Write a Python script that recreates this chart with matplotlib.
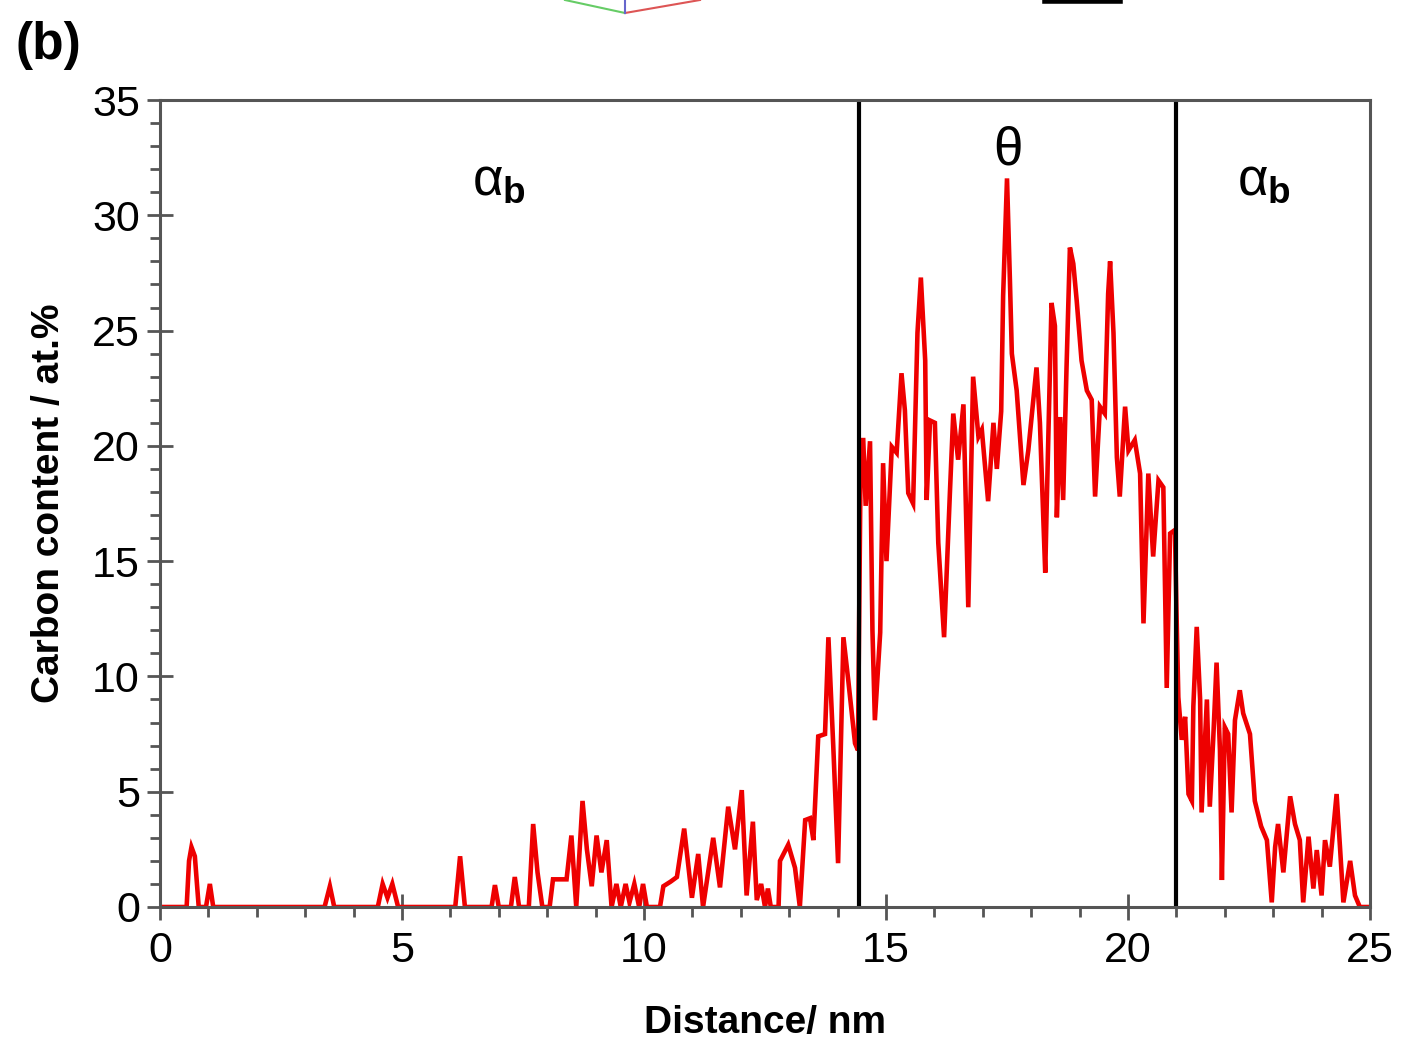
import matplotlib
matplotlib.use("Agg")
import matplotlib.pyplot as plt
from matplotlib.lines import Line2D
from matplotlib.ticker import MultipleLocator

plt.rcParams['font.family'] = ['Liberation Sans', 'DejaVu Sans']
plt.rcParams['mathtext.fontset'] = 'custom'
plt.rcParams['mathtext.rm'] = 'Liberation Sans'
plt.rcParams['mathtext.it'] = 'Liberation Sans'
plt.rcParams['mathtext.bf'] = 'Liberation Sans:bold'

# carbon profile (distance in nm, carbon in at.%)
distance = [0, 0.55, 0.6, 0.65, 0.72, 0.8, 0.95, 1.03, 1.1, 3.4, 3.51, 3.6,
            4.5, 4.6, 4.7, 4.8, 4.92, 6.1, 6.2, 6.3, 6.85, 6.92, 7.0, 7.25,
            7.33, 7.42, 7.62, 7.71, 7.8, 7.9, 8.05, 8.12, 8.4, 8.5, 8.6, 8.73,
            8.82, 8.92, 9.02, 9.12, 9.23, 9.33, 9.43, 9.52, 9.62, 9.7, 9.8,
            9.9, 9.98, 10.06, 10.33, 10.4, 10.55, 10.68, 10.83, 10.99, 11.12,
            11.22, 11.43, 11.57, 11.74, 11.88, 12.02, 12.12, 12.25, 12.33,
            12.42, 12.5, 12.56, 12.62, 12.78, 12.81, 12.98, 13.12, 13.22,
            13.33, 13.43, 13.5, 13.6, 13.74, 13.81, 13.91, 14.01, 14.12, 14.22,
            14.36, 14.42, 14.48, 14.53, 14.58, 14.67, 14.72, 14.77, 14.88,
            14.94, 15.01, 15.12, 15.22, 15.32, 15.39, 15.46, 15.56, 15.65,
            15.72, 15.81, 15.84, 15.91, 16.01, 16.08, 16.2, 16.32, 16.39,
            16.49, 16.6, 16.7, 16.8, 16.91, 16.98, 17.11, 17.22, 17.29, 17.38,
            17.42, 17.5, 17.56, 17.6, 17.7, 17.84, 17.94, 18.11, 18.18, 18.29,
            18.32, 18.42, 18.49, 18.53, 18.6, 18.66, 18.73, 18.8, 18.87, 18.94,
            19.04, 19.15, 19.25, 19.32, 19.42, 19.52, 19.59, 19.63, 19.7,
            19.77, 19.83, 19.94, 20.01, 20.14, 20.25, 20.32, 20.42, 20.52,
            20.63, 20.73, 20.8, 20.87, 20.97, 21.0, 21.04, 21.11, 21.18, 21.25,
            21.32, 21.35, 21.42, 21.49, 21.52, 21.63, 21.69, 21.76, 21.83,
            21.9, 21.94, 22.0, 22.07, 22.14, 22.21, 22.31, 22.38, 22.52, 22.62,
            22.75, 22.87, 22.97, 23.04, 23.1, 23.21, 23.35, 23.45, 23.55,
            23.62, 23.73, 23.83, 23.9, 24.0, 24.07, 24.17, 24.31, 24.38, 24.45,
            24.59, 24.69, 24.79, 25.0]
carbon = [0, 0, 2.0, 2.6, 2.2, 0, 0, 1.0, 0, 0, 0.9, 0,
          0, 1.0, 0.4, 1.0, 0, 0, 2.2, 0, 0, 0.95, 0, 0,
          1.3, 0, 0, 3.6, 1.5, 0, 0, 1.2, 1.2, 3.1, 0, 4.6,
          2.5, 0.9, 3.1, 1.5, 2.9, 0, 1.0, 0, 1.0, 0.2, 1.0,
          0, 1.0, 0, 0, 0.9, 1.1, 1.3, 3.4, 0.4, 2.3,
          0, 3.0, 0.85, 4.35, 2.5, 5.07, 0.5, 3.7, 0.3,
          1.0, 0, 0.8, 0, 0, 2.0, 2.7, 1.7, 0,
          3.77, 3.85, 2.9, 7.4, 7.5, 11.7, 7.0, 1.9, 11.7, 9.84,
          7.1, 6.8, 20.25, 20.25, 17.4, 20.2, 12.0, 8.1, 11.9,
          19.25, 15.0, 19.96, 19.7, 23.15, 21.55, 17.95, 17.5, 24.9,
          27.3, 23.7, 17.65, 21.1, 21.0, 15.8, 11.7, 17.95, 21.4,
          19.4, 21.8, 13.0, 23.0, 20.4, 20.7, 17.6, 21.0, 19.0, 21.5,
          26.5, 31.6, 27.2, 24.0, 22.4, 18.3, 19.8, 23.4, 21.0, 14.5,
          17.4, 26.2, 25.2, 16.9, 21.25, 17.65, 23.4, 28.6, 27.9, 26.3,
          23.7, 22.4, 22.0, 17.8, 21.7, 21.4, 26.6, 28.0, 24.9,
          19.5, 17.8, 21.7, 19.8, 20.25, 18.8, 12.3, 18.8, 15.2,
          18.5, 18.2, 9.5, 16.2, 16.35, 13.0, 9.1, 7.25, 8.25, 4.9,
          4.6, 8.7, 12.15, 9.0, 4.1, 9.0, 4.35, 7.25, 10.6,
          6.8, 1.17, 7.8, 7.5, 4.1, 8.1, 9.4, 8.4, 7.5, 4.6,
          3.5, 2.9, 0.2, 2.6, 3.6, 1.5, 4.8, 3.6, 2.9,
          0.2, 3.05, 0.8, 2.47, 0.5, 2.9, 1.75, 4.9, 2.6, 0.2,
          2.0, 0.5, 0, 0]

boundaries = [14.45, 21.0]
phase_labels = [r'$\alpha_{\mathbf{b}}$', r'$\theta$', r'$\alpha_{\mathbf{b}}$']
phase_x = [7.0, 17.5, 22.8]
phase_y = [31.5, 32.8, 31.5]

fig = plt.figure(figsize=(14.05, 10.57), dpi=100)
ax = fig.add_axes([160 / 1405, 1 - 907 / 1057, 1210 / 1405, 807 / 1057])

ax.plot(distance, carbon, color='#ee0000', lw=3.3, solid_joinstyle='miter')
for b in boundaries:
    ax.axvline(b, color='black', lw=3)

for lab, xx, yy in zip(phase_labels, phase_x, phase_y):
    ax.text(xx, yy, lab, fontsize=38, ha='center', va='center')

ax.set_xlim(0, 25)
ax.set_ylim(0, 35)
ax.xaxis.set_major_locator(MultipleLocator(5))
ax.xaxis.set_minor_locator(MultipleLocator(1))
ax.yaxis.set_major_locator(MultipleLocator(5))
ax.yaxis.set_minor_locator(MultipleLocator(1))
ax.tick_params(which='major', direction='inout', length=19, width=2,
               color='#555555', labelsize=31, pad=5)
ax.tick_params(which='minor', direction='out', length=7, width=2,
               color='#555555')
ax.tick_params(top=False, right=False, which='both')
ax.tick_params(axis='x', which='major', pad=8)
for s in ax.spines.values():
    s.set_color('#555555')
    s.set_linewidth(2.2)

ax.set_xlabel('Distance/ nm', fontsize=28, fontweight='bold', labelpad=24)
ax.set_ylabel('Carbon content / at.%', fontsize=28, fontweight='bold', labelpad=18)

fig.text(15 / 1405, 1 - 46 / 1057, '(b)', fontsize=37, fontweight='bold',
         ha='left', va='center')

# leftover bits of the panel above
fig.add_artist(Line2D([565 / 1405, 625 / 1405], [1.0, 1 - 13 / 1057],
                      color='#66cc66', lw=1.5))
fig.add_artist(Line2D([625 / 1405, 700 / 1405], [1 - 13 / 1057, 1.0],
                      color='#dd5555', lw=1.5))
fig.add_artist(Line2D([625 / 1405, 625 / 1405], [1 - 13 / 1057, 1.0],
                      color='#6666cc', lw=1.5))
fig.add_artist(Line2D([1045 / 1405, 1120 / 1405], [1 - 1 / 1057, 1 - 1 / 1057],
                      color='black', lw=4))

fig.savefig('out.png', dpi=100)
